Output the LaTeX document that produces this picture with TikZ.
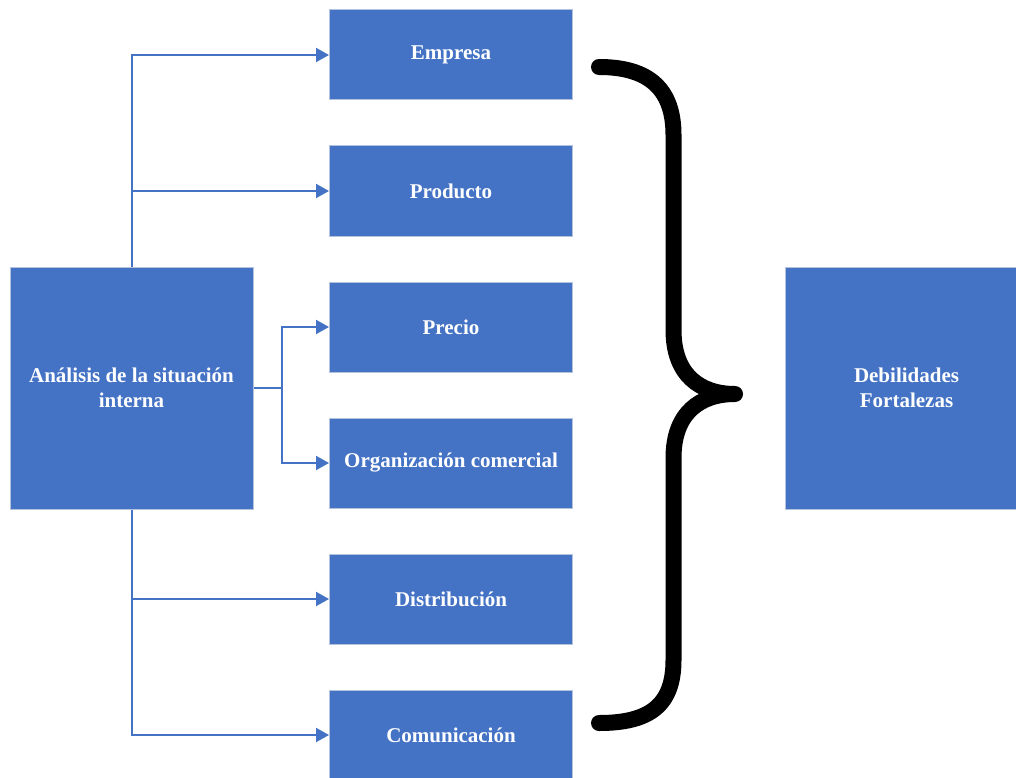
\documentclass[tikz,border=0pt]{standalone}
\usepackage{fontspec}
\setmainfont{Liberation Serif}
\usetikzlibrary{arrows.meta}
\definecolor{boxblue}{HTML}{4472C4}
\definecolor{boxedge}{HTML}{B4C2DC}
\begin{document}
\begin{tikzpicture}[x=1pt,y=-1pt,
  block/.style={draw=boxedge, line width=1pt, fill=boxblue, text=white,
    font=\fontsize{21}{25}\selectfont\bfseries, align=center,
    inner sep=0pt, minimum width=243pt, minimum height=90pt},
  bigblock/.style={block, minimum height=242pt},
  conn/.style={draw=boxblue, line width=2pt, -{Triangle[length=13pt,width=14pt]}},
  bracestroke/.style={line width=16pt, line cap=round, line join=round}]
\useasboundingbox (0,0) rectangle (1016,778);
\begin{scope}
\clip (0,0) rectangle (1016,778);
% source and result blocks
\node[bigblock] (src) at (131.5,388) {Análisis de la situación\\interna};
\node[bigblock] (res) at (906.5,388) {Debilidades\\Fortalezas};
% the six aspects
\node[block] (emp)  at (451,55)  {Empresa};
\node[block] (prod) at (451,191) {Producto};
\node[block] (prec) at (451,327) {Precio};
\node[block] (org)  at (451,463) {Organización comercial};
\node[block] (dist) at (451,599) {Distribución};
\node[block] (com)  at (451,735) {Comunicación};
\end{scope}
% connectors
\draw[conn] (src.north) |- (emp.west);
\draw[conn] (src.north) |- (prod.west);
\coordinate (fork) at ([xshift=28pt]src.east);
\draw[draw=boxblue, line width=2pt] (src.east) -- (fork);
\draw[conn] (fork) |- (prec.west);
\draw[conn] (fork) |- (org.west);
\draw[conn] (src.south) |- (dist.west);
\draw[conn] (src.south) |- (com.west);
% closing brace
\draw[bracestroke] (599,67) .. controls (650,67) and (673.5,90) .. (673.5,135)
  -- (673.5,330) .. controls (673.5,375) and (700,394) .. (735,394)
  .. controls (700,394) and (673.5,413) .. (673.5,458)
  -- (673.5,660) .. controls (673.5,705) and (650,723) .. (599,723);
\end{tikzpicture}
\end{document}
